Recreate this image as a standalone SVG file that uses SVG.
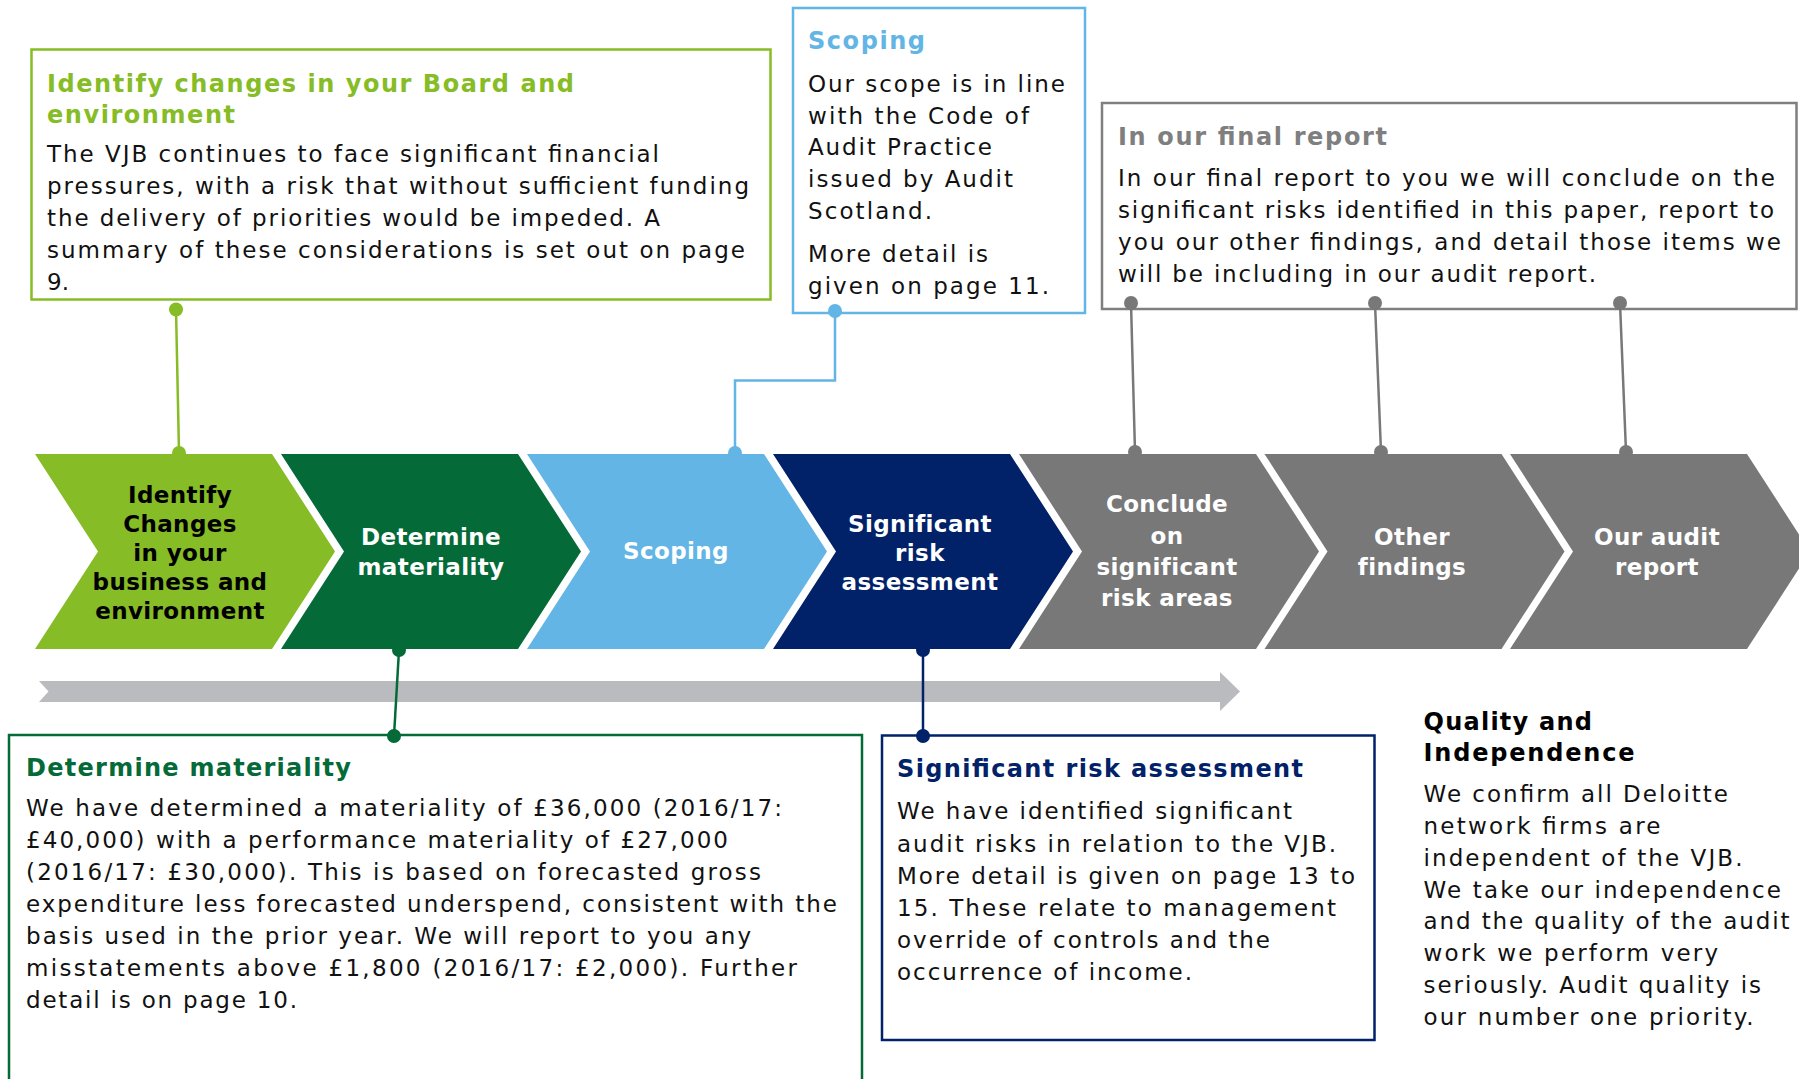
<svg xmlns="http://www.w3.org/2000/svg" width="1799" height="1079" viewBox="0 0 1799 1079">
<style>
text{font-family:"DejaVu Sans",Verdana,sans-serif}
.b{font-size:23px;fill:#111}
.t{font-size:24px;font-weight:bold}
.c{font-size:23px;font-weight:bold;fill:#fff;text-anchor:middle;letter-spacing:0.4px}
.box{fill:#fff;stroke-width:2.5}
.ln{fill:none;stroke-width:2.5}
</style>
<rect width="1799" height="1079" fill="#fff"/>

<g id="progress-arrow">
<polygon points="39,681 1220,681 1220,672 1240,691.5 1220,711 1220,702 39,702 48.5,691.5" fill="#BABBBE"/>
</g>

<g id="chevron-identify">
<polygon points="35,454 272,454 335,551.5 272,649 35,649 98,551.5" fill="#86BC25"/>
<text class="c" style="fill:#000"><tspan x="180" y="503">Identify</tspan><tspan x="180" y="532">Changes</tspan><tspan x="180" y="561">in your</tspan><tspan x="180" y="590">business and</tspan><tspan x="180" y="619">environment</tspan></text>
</g>
<g id="chevron-materiality">
<polygon points="281,454 518,454 581,551.5 518,649 281,649 344,551.5" fill="#046A38"/>
<text class="c"><tspan x="431" y="545">Determine</tspan><tspan x="431" y="575">materiality</tspan></text>
</g>
<g id="chevron-scoping">
<polygon points="527,454 764,454 827,551.5 764,649 527,649 590,551.5" fill="#62B5E5"/>
<text class="c" x="676" y="559">Scoping</text>
</g>
<g id="chevron-risk">
<polygon points="773,454 1010,454 1073,551.5 1010,649 773,649 836,551.5" fill="#012169"/>
<text class="c"><tspan x="920" y="531.5">Significant</tspan><tspan x="920" y="560.5">risk</tspan><tspan x="920" y="590">assessment</tspan></text>
</g>
<g id="chevron-conclude">
<polygon points="1019,454 1256,454 1319,551.5 1256,649 1019,649 1082,551.5" fill="#787878"/>
<text class="c"><tspan x="1167" y="512">Conclude</tspan><tspan x="1167" y="543.5">on</tspan><tspan x="1167" y="574.5">significant</tspan><tspan x="1167" y="605.5">risk areas</tspan></text>
</g>
<g id="chevron-other">
<polygon points="1264.5,454 1501.5,454 1564.5,551.5 1501.5,649 1264.5,649 1327.5,551.5" fill="#787878"/>
<text class="c"><tspan x="1412" y="545">Other</tspan><tspan x="1412" y="575">findings</tspan></text>
</g>
<g id="chevron-report">
<polygon points="1510,454 1747,454 1810,551.5 1747,649 1510,649 1573,551.5" fill="#787878"/>
<text class="c"><tspan x="1657" y="545">Our audit</tspan><tspan x="1657" y="575">report</tspan></text>
</g>

<g id="box-identify">
<rect class="box" x="31.5" y="49.5" width="739" height="250" stroke="#86BC25" stroke-width="3"/>
<text class="t" fill="#86BC25"><tspan x="47" y="91.5" textLength="527" lengthAdjust="spacing">Identify changes in your Board and</tspan><tspan x="47" y="122.5" textLength="188" lengthAdjust="spacing">environment</tspan></text>
<text class="b">
<tspan x="47" y="162" textLength="612" lengthAdjust="spacing">The VJB continues to face significant financial</tspan>
<tspan x="47" y="194" textLength="702" lengthAdjust="spacing">pressures, with a risk that without sufficient funding</tspan>
<tspan x="47" y="226" textLength="613" lengthAdjust="spacing">the delivery of priorities would be impeded. A</tspan>
<tspan x="47" y="258" textLength="698" lengthAdjust="spacing">summary of these considerations is set out on page</tspan>
<tspan x="47" y="290">9.</tspan>
</text>
</g>

<g id="box-scoping">
<rect class="box" x="793" y="8" width="292" height="305" stroke="#62B5E5"/>
<text class="t" fill="#62B5E5" x="808" y="49" textLength="117" lengthAdjust="spacing">Scoping</text>
<text class="b">
<tspan x="808" y="92" textLength="257" lengthAdjust="spacing">Our scope is in line</tspan>
<tspan x="808" y="123.5" textLength="221" lengthAdjust="spacing">with the Code of</tspan>
<tspan x="808" y="155" textLength="184" lengthAdjust="spacing">Audit Practice</tspan>
<tspan x="808" y="187" textLength="205" lengthAdjust="spacing">issued by Audit</tspan>
<tspan x="808" y="218.5" textLength="124" lengthAdjust="spacing">Scotland.</tspan>
<tspan x="808" y="262" textLength="180" lengthAdjust="spacing">More detail is</tspan>
<tspan x="808" y="294" textLength="241" lengthAdjust="spacing">given on page 11.</tspan>
</text>
</g>

<g id="box-final-report">
<rect class="box" x="1102" y="103" width="694.5" height="206" stroke="#7F7F7F" stroke-width="3"/>
<text class="t" fill="#7F7F7F" x="1118" y="144.5" textLength="269" lengthAdjust="spacing">In our final report</text>
<text class="b">
<tspan x="1118" y="186" textLength="657" lengthAdjust="spacing">In our final report to you we will conclude on the</tspan>
<tspan x="1118" y="218" textLength="656" lengthAdjust="spacing">significant risks identified in this paper, report to</tspan>
<tspan x="1118" y="250" textLength="663" lengthAdjust="spacing">you our other findings, and detail those items we</tspan>
<tspan x="1118" y="282" textLength="478" lengthAdjust="spacing">will be including in our audit report.</tspan>
</text>
</g>

<g id="box-materiality">
<rect class="box" x="9" y="735" width="853" height="400" stroke="#046A38"/>
<text class="t" fill="#046A38" x="26" y="776" textLength="325" lengthAdjust="spacing">Determine materiality</text>
<text class="b">
<tspan x="26" y="815.5" textLength="756" lengthAdjust="spacing">We have determined a materiality of £36,000 (2016/17:</tspan>
<tspan x="26" y="847.5" textLength="702" lengthAdjust="spacing">£40,000) with a performance materiality of £27,000</tspan>
<tspan x="26" y="879.5" textLength="735" lengthAdjust="spacing">(2016/17: £30,000). This is based on forecasted gross</tspan>
<tspan x="26" y="911.5" textLength="811" lengthAdjust="spacing">expenditure less forecasted underspend, consistent with the</tspan>
<tspan x="26" y="943.5" textLength="725" lengthAdjust="spacing">basis used in the prior year. We will report to you any</tspan>
<tspan x="26" y="975.5" textLength="771" lengthAdjust="spacing">misstatements above £1,800 (2016/17: £2,000). Further</tspan>
<tspan x="26" y="1007.5" textLength="271" lengthAdjust="spacing">detail is on page 10.</tspan>
</text>
</g>

<g id="box-risk">
<rect class="box" x="882" y="735.5" width="492.5" height="304.5" stroke="#012169"/>
<text class="t" fill="#012169" x="897" y="777" textLength="406" lengthAdjust="spacing">Significant risk assessment</text>
<text class="b">
<tspan x="897" y="819" textLength="395" lengthAdjust="spacing">We have identified significant</tspan>
<tspan x="897" y="851.5" textLength="439" lengthAdjust="spacing">audit risks in relation to the VJB.</tspan>
<tspan x="897" y="883.5" textLength="458" lengthAdjust="spacing">More detail is given on page 13 to</tspan>
<tspan x="897" y="915.5" textLength="439" lengthAdjust="spacing">15. These relate to management</tspan>
<tspan x="897" y="948" textLength="373" lengthAdjust="spacing">override of controls and the</tspan>
<tspan x="897" y="980" textLength="295" lengthAdjust="spacing">occurrence of income.</tspan>
</text>
</g>

<g id="quality">
<text class="t" fill="#000"><tspan x="1423.5" y="729.5" textLength="168.5" lengthAdjust="spacing">Quality and</tspan><tspan x="1423.5" y="760.5" textLength="211" lengthAdjust="spacing">Independence</tspan></text>
<text class="b">
<tspan x="1423.5" y="801.5" textLength="304.5" lengthAdjust="spacing">We confirm all Deloitte</tspan>
<tspan x="1423.5" y="833.5" textLength="237" lengthAdjust="spacing">network firms are</tspan>
<tspan x="1423.5" y="865.5" textLength="319" lengthAdjust="spacing">independent of the VJB.</tspan>
<tspan x="1423.5" y="897.5" textLength="357.5" lengthAdjust="spacing">We take our independence</tspan>
<tspan x="1423.5" y="929" textLength="366" lengthAdjust="spacing">and the quality of the audit</tspan>
<tspan x="1423.5" y="961" textLength="294.5" lengthAdjust="spacing">work we perform very</tspan>
<tspan x="1423.5" y="993" textLength="337.5" lengthAdjust="spacing">seriously. Audit quality is</tspan>
<tspan x="1423.5" y="1025" textLength="330" lengthAdjust="spacing">our number one priority.</tspan>
</text>
</g>

<g id="connectors">
<g stroke="#86BC25" fill="#86BC25"><line class="ln" x1="176" y1="309.5" x2="179" y2="453"/><circle cx="176" cy="309.5" r="7" stroke="none"/><circle cx="179" cy="453" r="7" stroke="none"/></g>
<g stroke="#62B5E5" fill="#62B5E5"><polyline class="ln" points="835,311 835,380.5 735,380.5 735,453"/><circle cx="835" cy="311" r="7" stroke="none"/><circle cx="735" cy="453" r="7" stroke="none"/></g>
<g stroke="#787878" fill="#787878">
<line class="ln" x1="1131" y1="303" x2="1135" y2="452"/><circle cx="1131" cy="303" r="7" stroke="none"/><circle cx="1135" cy="452" r="7" stroke="none"/>
<line class="ln" x1="1375" y1="303" x2="1381" y2="452"/><circle cx="1375" cy="303" r="7" stroke="none"/><circle cx="1381" cy="452" r="7" stroke="none"/>
<line class="ln" x1="1620" y1="303" x2="1626" y2="452"/><circle cx="1620" cy="303" r="7" stroke="none"/><circle cx="1626" cy="452" r="7" stroke="none"/>
</g>
<g stroke="#046A38" fill="#046A38"><line class="ln" x1="399" y1="650" x2="394" y2="736"/><circle cx="399" cy="650" r="7" stroke="none"/><circle cx="394" cy="736" r="7" stroke="none"/></g>
<g stroke="#012169" fill="#012169"><line class="ln" x1="923" y1="650" x2="923" y2="736"/><circle cx="923" cy="650" r="7" stroke="none"/><circle cx="923" cy="736" r="7" stroke="none"/></g>
</g>
</svg>
